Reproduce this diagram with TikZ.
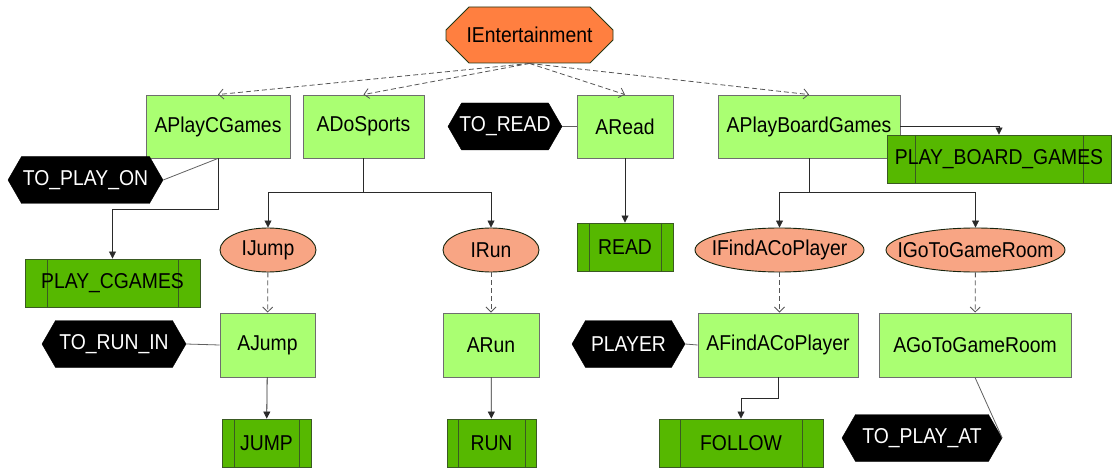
\documentclass[tikz,border=0pt]{standalone}
\usepackage{fontspec}
\setmainfont{Liberation Sans}[FakeStretch=0.9]
\usepackage{xcolor}
\usepackage{tikz}
\usetikzlibrary{arrows.meta,positioning,shapes.geometric,shapes.misc,shapes.symbols}
\definecolor{cRoot}{HTML}{FF7F40}
\definecolor{cInt}{HTML}{F8A584}
\definecolor{cAct}{HTML}{AAFF72}
\definecolor{cProc}{HTML}{56B800}
\definecolor{cEdge}{HTML}{2A2A2A}
\definecolor{cLine}{HTML}{606060}
\definecolor{cDash}{HTML}{555555}
\definecolor{cBorder}{HTML}{6E6E6E}
\definecolor{cProcLine}{HTML}{3A5A22}
\tikzset{
  blk/.style={draw=cBorder, line width=0.9pt, inner sep=0pt, minimum height=63pt, align=center},
  rootblk/.style={blk, chamfered rectangle, chamfered rectangle xsep=19pt, chamfered rectangle ysep=15pt,
                  fill=cRoot, draw=cProcLine!60!black, minimum width=167pt, minimum height=56pt},
  actblk/.style={blk, fill=cAct},
  intblk/.style={blk, ellipse, fill=cInt, draw=cProcLine!40!black, minimum height=44pt},
  procblk/.style={blk, fill=cProc, draw=cProcLine, minimum height=48pt, path picture={
      \draw[cProcLine, line width=0.9pt] ([xshift=#1]path picture bounding box.north west) -- ([xshift=#1]path picture bounding box.south west);
      \draw[cProcLine, line width=0.9pt] ([xshift=-#1]path picture bounding box.north east) -- ([xshift=-#1]path picture bounding box.south east);}},
  procblk/.default=12pt,
  termblk/.style={shape=signal, signal to=west and east, signal pointer angle=120, fill=black, draw=black,
                  text=white, inner sep=0pt, minimum height=47pt},
  arr/.style={-{Triangle[length=7pt,width=7pt]}, line width=0.8pt, cEdge},
  dasharr/.style={-{Straight Barb[length=5pt,width=10pt]}, line width=0.8pt, cDash, dash pattern=on 5pt off 3pt},
  lnk/.style={line width=0.8pt, cLine}
}
% text that does not widen its shape
\newcommand{\nowide}[1]{\makebox[0pt]{#1}}

\begin{document}
\begin{tikzpicture}[x=1pt, y=-1pt, font=\fontsize{21.5}{24}\selectfont]
\useasboundingbox (0,0) rectangle (1112,468);
% root interface
\node[rootblk] (ient) at (529.5,35) {IEntertainment};
% first level agents
\node[actblk, minimum width=144pt] (aplaycgames) at (218,126.5) {APlayCGames};
\node[actblk, minimum width=121pt] (adosports) at (363.5,126.5) {ADoSports};
\node[actblk, minimum width=96pt] (aread) at (625,126.5) {ARead};
\node[actblk, minimum width=182pt] (aplayboard) at (809,126.5) {\nowide{APlayBoardGames}};
\node[termblk, minimum width=155pt] (toplayon) at (85.5,180) {\nowide{TO\_PLAY\_ON}};
\node[termblk, minimum width=114pt] (toread) at (505,126.5) {\nowide{TO\_READ}};
\node[procblk=22pt, minimum width=175pt] (playcgames) at (112.5,283) {\nowide{PLAY\_CGAMES}};
\node[procblk=28pt, minimum width=224pt] (playboard) at (999,159) {\nowide{PLAY\_BOARD\_GAMES}};
\node[procblk, minimum width=96pt] (read) at (625,247) {READ};
% second level interfaces
\node[intblk, minimum width=96pt] (ijump) at (268,250) {\nowide{IJump}};
\node[intblk, minimum width=96pt] (irun) at (491,250) {\nowide{IRun}};
\node[intblk, minimum width=169pt] (ifind) at (779.5,250) {\nowide{IFindACoPlayer}};
\node[intblk, minimum width=179pt] (igoto) at (975.5,250) {\nowide{IGoToGameRoom}};
% second level agents
\node[actblk, minimum width=95pt, minimum height=64pt] (ajump) at (267.5,345) {AJump};
\node[actblk, minimum width=96pt, minimum height=64pt] (arun) at (491,345) {ARun};
\node[actblk, minimum width=160pt, minimum height=64pt] (afind) at (778,345) {\nowide{AFindACoPlayer}};
\node[actblk, minimum width=192pt, minimum height=64pt] (agoto) at (975,345) {\nowide{AGoToGameRoom}};
\node[termblk, minimum width=144pt] (toruning) at (114,344) {\nowide{TO\_RUN\_IN}};
\node[termblk, minimum width=113pt] (player) at (628.5,344) {\nowide{PLAYER}};
\node[termblk, minimum width=160pt] (toplayat) at (922,438) {\nowide{TO\_PLAY\_AT}};
\node[procblk, minimum width=89pt] (jump) at (266.5,443) {JUMP};
\node[procblk=11pt, minimum width=89pt] (run) at (491.5,443) {RUN};
\node[procblk=21pt, minimum width=164pt] (follow) at (741,443) {FOLLOW};

% realisation of IEntertainment
\foreach \n in {aplaycgames,adosports,aread,aplayboard}
  \draw[dasharr] (ient.south) -- (\n.north);
\draw[dasharr] (ijump) -- (ajump);
\draw[dasharr] (irun) -- (arun);
\draw[dasharr] (ifind.south) -- (afind.north -| ifind.south);
\draw[dasharr] (igoto) -- (agoto);

% uses
\draw[arr] (aplaycgames.south) -- ++(0,51) -| (playcgames.north);
\draw[arr] (adosports.south) -- ++(0,34) -| (ijump.north);
\draw[arr] (adosports.south) -- ++(0,34) -| (irun.north);
\draw[arr] (aread) -- (read);
\draw[arr] (aplayboard.east) -| (playboard.north);
\draw[arr] (aplayboard.south) -- ++(0,34) -| (ifind.north);
\draw[arr] (aplayboard.south) -- ++(0,34) -| (igoto.north);
\draw[arr] (ajump) -- (jump);
\draw[arr] (arun) -- (run);
\draw[arr] (afind.south) -- ++(0,21) -| (follow.north);

% terminals
\draw[lnk] (toplayon.east) -- (aplaycgames.south);
\draw[lnk] (toread.east) -- (aread.west);
\draw[lnk] (toruning.east) -- (ajump.west);
\draw[lnk] (player.east) -- (afind.west);
\draw[lnk] (agoto.south) -- (toplayat.east);
\end{tikzpicture}
\end{document}
